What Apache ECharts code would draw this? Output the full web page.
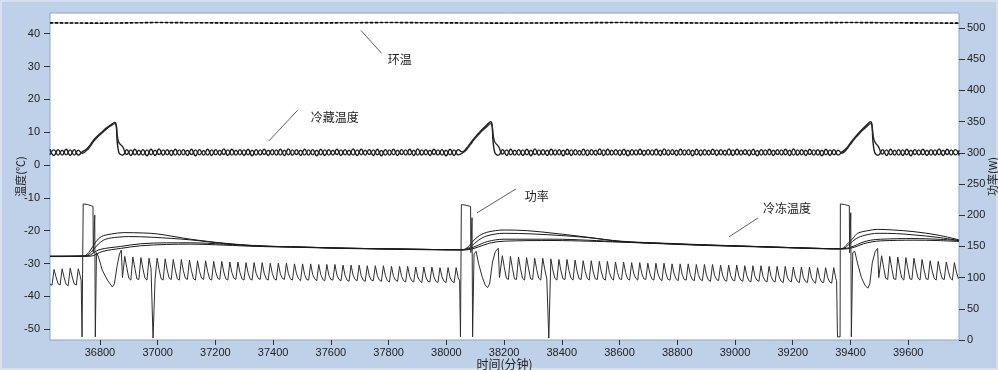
<!DOCTYPE html>
<html>
<head>
<meta charset="utf-8">
<script src="https://cdn.jsdelivr.net/npm/echarts@6/dist/echarts.min.js"></script>
<style>
html,body{margin:0;padding:0;background:#dbe4f0;}
#chart{width:998px;height:370px;box-sizing:border-box;}
</style>
</head>
<body>
<div id="chart"></div>
<script>
// ---------- axis ranges (minutes / °C / W) and tick labels ----------
const xMin = 36627, xMax = 39776;
const xTicks = [36800,37000,37200,37400,37600,37800,38000,38200,38400,38600,38800,39000,39200,39400,39600];
const tempMin = -53.3, tempMax = 46.3;
const tempTicks = [-50,-40,-30,-20,-10,0,10,20,30,40];
const powerMin = 0, powerMax = 524;
const powerTicks = [0,50,100,150,200,250,300,350,400,450,500];

// ---------- 环温 (ambient, °C) [minute, value] ----------
const ambient = [[36627,43.3],[36800,43.2],[37000,43.4],[37200,43.3],[37400,43.2],[37600,43.3],[37800,43.4],[38000,43.3],[38200,43.2],[38400,43.3],[38600,43.4],[38800,43.3],[39000,43.2],[39200,43.3],[39400,43.4],[39600,43.3],[39776,43.2]];

// ---------- 冷藏温度 (fridge, °C): sampled every 14 min from 36627 ----------
const fridgeStart = 36627, fridgeStep = 14;
const fridgeA = [4.8,2.9,4.7,3.0,4.8,2.9,4.7,3.0,
4.0,4.8,6.2,7.9,9.1,10.2,11.3,12.2,13.0,4.0,3.0,
4.7,2.9,4.8,3.0,4.7,2.8,4.8,2.9,4.9,3.0,
4.7,2.9,4.8,3.0,4.7,2.9,4.8,2.8,4.7,3.0,
4.8,2.9,4.7,3.0,4.9,2.9,4.8,3.0,4.7,2.9,
4.8,2.8,4.7,3.0,4.8,2.9,4.7,3.0,4.8,2.9,
4.9,3.0,4.7,2.9,4.8,3.0,4.7,2.8,4.8,2.9,
4.7,3.0,4.8,2.9,4.7,3.0,4.9,2.9,4.8,3.0,
4.7,2.9,4.8,2.8,4.7,3.0,4.8,2.9,4.7,3.0,
4.8,2.9,4.9,3.0,4.7,2.9,4.8,3.0,4.7,2.8,
4.8,2.9,4.7,
4.0,5.0,6.6,8.2,9.6,10.9,12.1,13.2,4.1,3.0,
4.7,2.9,4.8,3.0,4.7,2.9,4.8,2.8,4.9,3.0,
4.7,2.9,4.8,3.0,4.7,2.8,4.8,2.9,4.7,3.0,
4.8,2.9,4.7,3.0,4.9,2.9,4.8,3.0,4.7,2.9,
4.8,2.8,4.7,3.0,4.8,2.9,4.7,3.0,4.8,2.9,
4.9,3.0,4.7,2.9,4.8,3.0,4.7,2.8,4.8,2.9,
4.7,3.0,4.8,2.9,4.7,3.0,4.9,2.9,4.8,3.0,
4.7,2.9,4.8,2.8,4.7,3.0,4.8,2.9,4.7,3.0,
4.8,2.9,4.9,3.0,4.7,2.9,4.8,3.0,4.7,2.8,
4.8,2.9,4.7,3.0,
4.0,5.0,6.6,8.2,9.6,10.9,12.1,13.2,4.1,3.0,
4.7,2.9,4.8,3.0,4.7,2.9,4.8,2.8,4.7,3.0,4.8,2.9,4.7,3.0,4.9,2.9,4.8,3.0,4.7,2.9];
const fridgeB = [3.1,4.6,3.0,4.5,3.1,4.6,3.0,4.5,
3.6,4.4,5.8,7.5,8.8,9.9,11.0,11.9,12.6,7.0,5.5,
3.2,4.6,3.1,4.5,3.0,4.6,3.1,4.5,3.2,4.6,
3.1,4.5,3.0,4.6,3.1,4.5,3.2,4.6,3.1,4.4,
3.0,4.6,3.1,4.5,3.2,4.6,3.0,4.5,3.1,4.6,
3.1,4.5,3.0,4.6,3.2,4.5,3.1,4.6,3.0,4.5,
3.1,4.6,3.2,4.5,3.0,4.6,3.1,4.5,3.1,4.6,
3.0,4.5,3.2,4.6,3.1,4.5,3.0,4.6,3.1,4.5,
3.2,4.6,3.1,4.4,3.0,4.6,3.1,4.5,3.2,4.6,
3.1,4.5,3.0,4.6,3.1,4.5,3.2,4.6,3.0,4.5,
3.1,4.6,3.1,
3.6,4.6,6.2,7.8,9.2,10.5,11.6,12.6,7.2,5.6,
3.3,4.6,3.1,4.5,3.0,4.6,3.1,4.5,3.2,4.6,
3.1,4.5,3.0,4.6,3.1,4.5,3.2,4.6,3.1,4.4,
3.0,4.6,3.1,4.5,3.2,4.6,3.0,4.5,3.1,4.6,
3.1,4.5,3.0,4.6,3.2,4.5,3.1,4.6,3.0,4.5,
3.1,4.6,3.2,4.5,3.0,4.6,3.1,4.5,3.1,4.6,
3.0,4.5,3.2,4.6,3.1,4.5,3.0,4.6,3.1,4.5,
3.2,4.6,3.1,4.4,3.0,4.6,3.1,4.5,3.2,4.6,
3.1,4.5,3.0,4.6,3.1,4.5,3.2,4.6,3.0,4.5,
3.1,4.6,3.1,4.5,
3.6,4.6,6.2,7.8,9.2,10.5,11.6,12.6,7.3,5.6,
3.3,4.6,3.1,4.5,3.0,4.6,3.1,4.5,3.2,4.6,3.1,4.5,3.0,4.6,3.1,4.5,3.2,4.6,3.1,4.5];

// ---------- 冷冻温度 (freezer, °C) four sensors [minute, value] ----------
const freezer1 = [[36627,-27.8],[36745,-27.7],[36765,-26.2],[36785,-23.5],[36805,-21.8],[36840,-21.0],[36883,-20.6],[36950,-20.7],[37000,-21.0],[37114,-22.6],[37229,-23.8],[37346,-24.6],[37500,-25.0],[37634,-25.3],[37850,-25.6],[38050,-25.8],
[38062,-25.7],[38080,-24.5],[38100,-22.5],[38130,-20.8],[38170,-20.0],[38200,-19.8],[38280,-20.0],[38373,-20.8],[38490,-22.0],[38605,-23.2],[38750,-23.8],[38900,-24.3],[39100,-24.9],[39250,-25.3],[39360,-25.5],
[39372,-25.4],[39390,-24.0],[39410,-22.2],[39425,-20.8],[39460,-20.0],[39495,-19.6],[39550,-19.8],[39620,-20.3],[39700,-21.3],[39776,-22.8]];
const freezer2 = [[36627,-27.8],[36748,-27.7],[36770,-26.5],[36795,-24.0],[36820,-22.6],[36860,-22.0],[36900,-21.8],[36980,-22.0],[37114,-22.8],[37229,-23.9],[37346,-24.6],[37500,-25.0],[37634,-25.3],[37850,-25.6],[38050,-25.8],
[38065,-25.7],[38085,-24.8],[38110,-23.0],[38140,-21.6],[38200,-20.8],[38300,-21.0],[38400,-21.5],[38490,-22.1],[38605,-23.3],[38750,-23.9],[38900,-24.4],[39100,-24.9],[39250,-25.3],[39360,-25.5],
[39376,-25.4],[39395,-24.2],[39420,-22.4],[39450,-21.4],[39495,-20.8],[39560,-20.9],[39620,-21.3],[39700,-22.0],[39776,-23.0]];
const freezer3 = [[36627,-27.8],[36755,-27.7],[36797,-25.8],[36872,-24.8],[36941,-24.0],[37030,-23.7],[37114,-23.7],[37229,-24.1],[37346,-24.7],[37500,-25.0],[37634,-25.3],[37850,-25.6],[38050,-25.8],
[38070,-25.7],[38100,-24.8],[38143,-23.3],[38200,-22.6],[38373,-22.6],[38490,-22.9],[38605,-23.4],[38750,-23.9],[38900,-24.4],[39100,-24.9],[39250,-25.3],[39360,-25.5],
[39385,-25.4],[39409,-24.8],[39440,-23.6],[39470,-22.9],[39505,-22.6],[39620,-22.4],[39700,-22.6],[39776,-23.0]];
const freezer4 = [[36627,-27.9],[36765,-27.8],[36810,-26.3],[36872,-25.4],[36941,-24.6],[37030,-24.2],[37114,-24.1],[37229,-24.4],[37346,-24.8],[37500,-25.1],[37634,-25.4],[37850,-25.7],[38050,-25.9],
[38075,-25.8],[38110,-25.0],[38150,-23.8],[38200,-23.2],[38373,-23.0],[38490,-23.2],[38605,-23.5],[38750,-24.0],[38900,-24.5],[39100,-25.0],[39250,-25.4],[39360,-25.6],
[39390,-25.5],[39415,-25.0],[39445,-24.0],[39475,-23.4],[39505,-23.1],[39620,-22.9],[39700,-23.0],[39776,-23.3]];

// ---------- 功率 (power, W): compressor cycling sampled every 7 min, defrost events as [minute, value] ----------
const powerSampleStep = 7;
const powerSeg0Start = 36627;
const powerSeg0 = [89,88,113,101,90,88,114,100,89,87,115,101,90,88,114,102];
const powerDefrost1 = [[36735,95],[36738,5],[36741,5],[36742,218],[36758,217],[36776,214],[36777,140],[36781,140],[36782,200],[36784,5],[36787,5],[36788,140],[36795,133],[36808,112],[36826,96],[36843,85],[36850,90],[36860,120],[36868,138],[36874,144],[36878,100]];
const powerSeg1Start = 36879;
const powerSeg1 = [97,134,116,99,96,133,115,98,97,132,114,99,96,131,114,3,97,131,113,98,96,130,112,99,97,129,112,98,96,129,111,99,97,128,111,98,96,127,110,99,97,127,110,98,96,126,109,99,97,126,109,98,96,125,108,99,97,125,108,98,96,124,108,98,96,124,107,99,97,124,107,98,96,123,107,98,96,123,106,99,97,123,106,98,96,122,106,98,95,122,105,97,96,122,105,98,95,121,105,97,95,121,104,97,96,121,104,97,95,120,104,96,94,120,104,97,95,120,103,96,94,119,103,96,95,119,103,96,94,119,103,95,93,118,102,96,94,118,102,95,93,118,102,95,93,117,101,95,92,117,101,94,93,117,101,94,92,116,101,94,92,116,100,94,92,116,100];
const powerDefrost2 = [[38046,95],[38049,5],[38051,5],[38052,217],[38068,216],[38084,214],[38085,140],[38088,140],[38089,196],[38091,5],[38094,5],[38096,138],[38103,142],[38112,122],[38125,100],[38135,88],[38143,84],[38150,90],[38160,125],[38170,142],[38180,147],[38184,100]];
const powerSeg2Start = 38187;
const powerSeg2 = [98,135,116,99,97,134,115,98,97,133,114,99,96,132,114,98,97,131,113,99,96,131,113,98,3,130,112,99,96,129,111,98,97,129,111,99,96,128,110,98,97,127,110,99,96,127,109,98,97,126,109,98,96,126,108,99,96,125,108,98,97,125,108,98,96,124,107,99,96,124,107,98,97,123,107,98,96,123,106,98,95,123,106,97,96,122,106,98,95,122,105,97,96,122,105,97,95,121,105,97,95,121,104,96,94,121,104,97,95,120,104,96,94,120,103,96,95,120,103,96,94,119,103,95,93,119,102,96,94,119,102,95,93,118,102,95,93,118,101,94,92,118,101,95,93,117,101,94,92,117,100,94,92,117,100,94,91,116,100,93,92,116,100,93,91,116,99];
const powerDefrost3 = [[39352,95],[39355,5],[39364,5],[39365,218],[39380,217],[39396,215],[39397,140],[39400,140],[39401,204],[39403,5],[39406,5],[39408,140],[39415,142],[39425,122],[39438,100],[39450,88],[39460,83],[39467,90],[39476,125],[39486,142],[39494,147],[39498,100]];
const powerSeg3Start = 39501;
const powerSeg3 = [98,135,116,99,97,134,115,98,97,133,114,99,96,132,114,98,97,131,113,99,96,129,112,98,97,127,111,99,96,126,110,98,97,125,110,99,96,124,109,98];

// ---------- callout labels (anchored in data units of the °C axis) ----------
const calloutText = ['环温','冷藏温度','功率','冷冻温度'];
const calloutFrom = [[37704,41.0],[37385,7.3],[38106,-14.6],[38979,-21.9]];
const calloutTo   = [[37776,34.0],[37485,16.7],[38241,-7.3],[39080,-16.1]];
const calloutAt   = [[37797,32.2],[37530,14.6],[38272,-9.7],[39097,-13.1]];

// ---------- build ----------
function sampled(start, step, vals){ return vals.map(function(v,i){ return [start + i*step, v]; }); }
const powerData = [].concat(
  sampled(powerSeg0Start, powerSampleStep, powerSeg0), powerDefrost1,
  sampled(powerSeg1Start, powerSampleStep, powerSeg1), powerDefrost2,
  sampled(powerSeg2Start, powerSampleStep, powerSeg2), powerDefrost3,
  sampled(powerSeg3Start, powerSampleStep, powerSeg3));
const fridgeDataA = sampled(fridgeStart, fridgeStep, fridgeA);
const fridgeDataB = sampled(fridgeStart, fridgeStep, fridgeB);

const INK = '#1a1a1a';
const numFont = 'Liberation Sans, Arial, sans-serif';
const cjkFont = 'Noto Sans CJK SC, sans-serif';

function lineSeries(name, data, yIdx, style, smooth){
  return {name:name, type:'line', data:data, yAxisIndex:yIdx, showSymbol:false, symbol:'none',
    smooth:smooth||false, lineStyle:style, silent:true};
}
function plain(v){ return String(v); }

const chart = echarts.init(document.getElementById('chart'), null, {renderer:'canvas'});
chart.setOption({
  backgroundColor:'#bfd1e8',
  animation:false,
  grid:{left:50, right:39, top:13, bottom:30, containLabel:false, outerBoundsMode:'none',
    show:true, backgroundColor:'#ffffff', borderColor:'#8ea5c3', borderWidth:1},
  xAxis:{type:'value', min:xMin, max:xMax,
    name:'时间(分钟)', nameLocation:'middle', nameGap:18, nameMoveOverlap:false,
    nameTextStyle:{fontSize:12, color:'#222', fontFamily:cjkFont},
    axisLine:{show:false, onZero:false}, splitLine:{show:false},
    axisTick:{show:true, length:5, lineStyle:{color:'#333'}, customValues:xTicks},
    axisLabel:{fontSize:11, color:'#222', margin:7, fontFamily:numFont, customValues:xTicks, formatter:plain}},
  yAxis:[
    {type:'value', position:'left', min:tempMin, max:tempMax,
     name:'温度(℃)', nameLocation:'middle', nameGap:24, nameMoveOverlap:false,
     nameTextStyle:{fontSize:11, color:'#222', fontFamily:cjkFont},
     axisLine:{show:false, onZero:false}, splitLine:{show:false},
     axisTick:{show:true, length:6, lineStyle:{color:'#333'}, customValues:tempTicks},
     axisLabel:{fontSize:11, color:'#222', margin:10, fontFamily:numFont, customValues:tempTicks, formatter:plain}},
    {type:'value', position:'right', min:powerMin, max:powerMax,
     name:'功率(W)', nameLocation:'middle', nameGap:28, nameMoveOverlap:false,
     nameTextStyle:{fontSize:11, color:'#222', fontFamily:cjkFont},
     axisLine:{show:false, onZero:false}, splitLine:{show:false},
     axisTick:{show:true, length:6, lineStyle:{color:'#333'}, customValues:powerTicks},
     axisLabel:{fontSize:11, color:'#222', margin:8, fontFamily:numFont, customValues:powerTicks, formatter:plain}}
  ],
  series:[
    lineSeries('环温', ambient, 0, {color:'#555', width:1}),
    lineSeries('环温', ambient, 0, {color:'#111', width:1.6, type:[3,2]}),
    lineSeries('冷藏温度', fridgeDataA, 0, {color:INK, width:1.4}, 0.5),
    lineSeries('冷藏温度', fridgeDataB, 0, {color:'#2a2a2a', width:1.4}, 0.5),
    lineSeries('冷冻温度', freezer1, 0, {color:INK, width:1}, 0.35),
    lineSeries('冷冻温度', freezer2, 0, {color:INK, width:1}, 0.35),
    lineSeries('冷冻温度', freezer3, 0, {color:INK, width:1}, 0.35),
    lineSeries('冷冻温度', freezer4, 0, {color:INK, width:1}, 0.35),
    lineSeries('功率', powerData, 1, {color:'#2e2e2e', width:1})
  ]
});

// callouts placed through the chart's own coordinate conversion, plus the light outer frame
const g = [{type:'rect', shape:{x:0, y:0, width:998, height:370}, style:{fill:'none', stroke:'#d6e0ee', lineWidth:4}, silent:true, z:-1}];
calloutText.forEach(function(t, k){
  const a = chart.convertToPixel({xAxisIndex:0, yAxisIndex:0}, calloutFrom[k]);
  const b = chart.convertToPixel({xAxisIndex:0, yAxisIndex:0}, calloutTo[k]);
  const c = chart.convertToPixel({xAxisIndex:0, yAxisIndex:0}, calloutAt[k]);
  g.push({type:'line', shape:{x1:a[0], y1:a[1], x2:b[0], y2:b[1]}, style:{stroke:'#333', lineWidth:0.8}, silent:true});
  g.push({type:'text', x:c[0], y:c[1], style:{text:t, fill:'#222', font:'12px ' + cjkFont, textAlign:'left', textVerticalAlign:'middle'}, silent:true});
});
chart.setOption({graphic:g});
</script>
</body>
</html>
